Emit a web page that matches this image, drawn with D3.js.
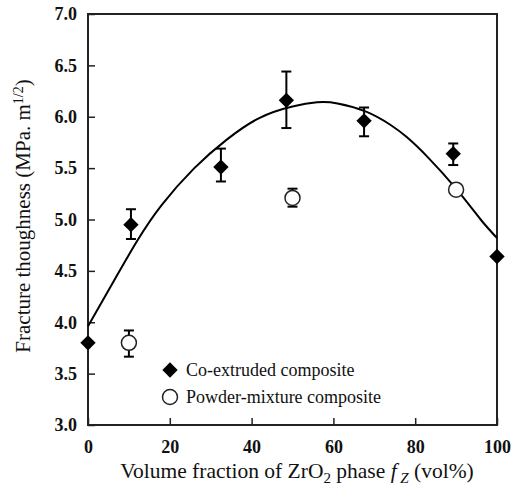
<!DOCTYPE html>
<html>
<head>
<meta charset="utf-8">
<script src="https://cdn.jsdelivr.net/npm/d3@7"></script>
</head>
<body style="margin:0; background:#fff">
<svg id="chart" width="520" height="485"></svg>
<script>
// co-extruded composite (filled diamonds)
var coX   = [0, 10.5, 32.5, 48.5, 67.5, 89.3, 100];
var coY   = [3.80, 4.95, 5.51, 6.16, 5.96, 5.64, 4.64];
var coLo  = [null, 4.81, 5.37, 5.89, 5.81, 5.53, null];
var coHi  = [null, 5.10, 5.69, 6.44, 6.09, 5.74, null];

// powder-mixture composite (open circles)
var pmX   = [10, 50, 90];
var pmY   = [3.80, 5.21, 5.29];
var pmLo  = [3.665, 5.125, null];
var pmHi  = [3.92, 5.30, null];

// fitted curve
var fitX = [0, 6, 12, 18, 26, 34, 42, 50, 56, 61, 68, 74, 78, 83, 90, 96, 100];
var fitY = [3.96, 4.38, 4.79, 5.14, 5.50, 5.78, 5.99, 6.10, 6.14, 6.13, 6.05, 5.92, 5.80, 5.61, 5.30, 5.00, 4.82];

var xTicks = [0, 20, 40, 60, 80, 100];
var yTicks = [3.0, 3.5, 4.0, 4.5, 5.0, 5.5, 6.0, 6.5, 7.0];

var margin = {left: 88, top: 14, right: 23, bottom: 60};
var width = 520 - margin.left - margin.right;
var height = 485 - margin.top - margin.bottom;
var serif = "Liberation Serif";

var svg = d3.select("#chart").attr("font-family", serif);
var g = svg.append("g").attr("transform", "translate(" + margin.left + "," + margin.top + ")");

var x = d3.scaleLinear().domain([0, 100]).range([0, width]);
var y = d3.scaleLinear().domain([3, 7]).range([height, 0]);

// axes with inward ticks
var xAxis = g.append("g")
	.attr("transform", "translate(0," + height + ")")
	.call(d3.axisBottom(x).tickValues(xTicks).tickSizeInner(-7).tickSizeOuter(0).tickPadding(12));
var yAxis = g.append("g")
	.call(d3.axisLeft(y).tickValues(yTicks).tickFormat(d3.format(".1f")).tickSizeInner(-7).tickSizeOuter(0).tickPadding(11));

[xAxis, yAxis].forEach(function(a) {
	a.attr("font-family", serif).attr("font-size", 18).attr("font-weight", "bold");
	a.select(".domain").remove();
	a.selectAll(".tick line").attr("stroke", "#222").attr("stroke-width", 1.5);
	a.selectAll(".tick text").attr("fill", "#111");
});
xAxis.selectAll(".tick text").attr("dy", "0.9em");

// frame
g.append("rect")
	.attr("x", 0).attr("y", 0)
	.attr("width", width).attr("height", height)
	.attr("fill", "none")
	.attr("stroke", "#222")
	.attr("stroke-width", 2);

// fitted curve
var line = d3.line()
	.x(function(d, i) { return x(fitX[i]); })
	.y(function(d) { return y(d); })
	.curve(d3.curveNatural);
g.append("path")
	.attr("d", line(fitY))
	.attr("fill", "none")
	.attr("stroke", "#000")
	.attr("stroke-width", 2);

// error bars
function errorBars(xs, lo, hi) {
	xs.forEach(function(xv, i) {
		if (lo[i] == null) return;
		var cx = x(xv);
		g.append("line")
			.attr("x1", cx).attr("x2", cx)
			.attr("y1", y(lo[i])).attr("y2", y(hi[i]))
			.attr("stroke", "#000").attr("stroke-width", 2);
		[lo[i], hi[i]].forEach(function(v) {
			g.append("line")
				.attr("x1", cx - 5).attr("x2", cx + 5)
				.attr("y1", y(v)).attr("y2", y(v))
				.attr("stroke", "#000").attr("stroke-width", 2);
		});
	});
}
errorBars(coX, coLo, coHi);
errorBars(pmX, pmLo, pmHi);

var diamond = d3.symbol().type(d3.symbolDiamond2).size(150);

g.selectAll("path.co")
	.data(coY)
	.enter().append("path")
	.attr("class", "co")
	.attr("d", diamond)
	.attr("transform", function(d, i) { return "translate(" + x(coX[i]) + "," + y(d) + ")"; })
	.attr("fill", "#000");

g.selectAll("circle.pm")
	.data(pmY)
	.enter().append("circle")
	.attr("class", "pm")
	.attr("cx", function(d, i) { return x(pmX[i]); })
	.attr("cy", function(d) { return y(d); })
	.attr("r", 7.5)
	.attr("fill", "#fff")
	.attr("stroke", "#222")
	.attr("stroke-width", 1.5);

// legend
var legend = svg.append("g").attr("transform", "translate(170,370)");
legend.append("path")
	.attr("d", diamond)
	.attr("fill", "#000");
legend.append("text")
	.attr("x", 16).attr("y", 6)
	.attr("font-size", 18)
	.attr("fill", "#111")
	.text("Co-extruded composite");
legend.append("circle")
	.attr("cx", 0).attr("cy", 27).attr("r", 7.5)
	.attr("fill", "#fff").attr("stroke", "#222").attr("stroke-width", 1.5);
legend.append("text")
	.attr("x", 16).attr("y", 33)
	.attr("font-size", 18)
	.attr("fill", "#111")
	.text("Powder-mixture composite");

// axis titles
var xt = svg.append("text")
	.attr("x", 297)
	.attr("y", 478)
	.attr("text-anchor", "middle")
	.attr("font-size", 21.5)
	.attr("fill", "#111");
xt.append("tspan").text("Volume fraction of ZrO");
xt.append("tspan").attr("dy", 5).attr("font-size", 15).text("2");
xt.append("tspan").attr("dy", -5).text(" phase ");
xt.append("tspan").attr("font-style", "italic").text("f");
xt.append("tspan").attr("dy", 5).attr("font-size", 15).attr("font-style", "italic").text(" Z");
xt.append("tspan").attr("dy", -5).text(" (vol%)");

var yt = svg.append("text")
	.attr("transform", "translate(30,216) rotate(-90)")
	.attr("text-anchor", "middle")
	.attr("font-size", 21)
	.attr("fill", "#111");
yt.append("tspan").text("Fracture thoughness (MPa. m");
yt.append("tspan").attr("dy", -7).attr("font-size", 14).text("1/2");
yt.append("tspan").attr("dy", 7).text(")");
</script>
</body>
</html>
